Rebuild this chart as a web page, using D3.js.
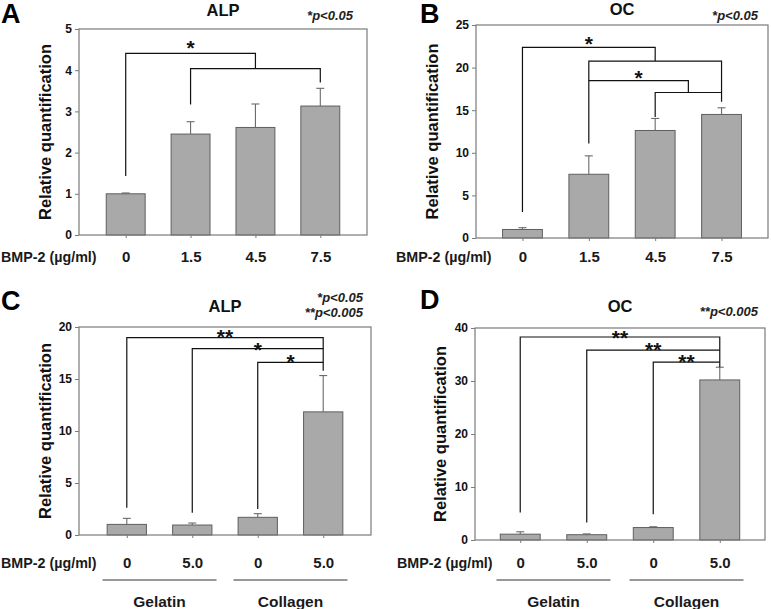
<!DOCTYPE html>
<html><head><meta charset="utf-8">
<script src="https://cdn.jsdelivr.net/npm/d3@7"></script>
<style>
html,body{margin:0;padding:0;background:#fff;}
svg{display:block;font-family:Arial,"Liberation Sans",sans-serif;}
</style></head>
<body>
<svg id="chart" width="771" height="609"></svg>
<script>
// ---------- data ----------
const catsDose = ["0", "1.5", "4.5", "7.5"];
const catsScaffold = ["0", "5.0", "0", "5.0"];
const groupLabels = ["Gelatin", "Collagen"];

const alpDoseMean = [1.0, 2.45, 2.61, 3.13];
const alpDoseErr  = [0.02, 0.30, 0.57, 0.43];
const ocDoseMean  = [1.0, 7.48, 12.62, 14.5];
const ocDoseErr   = [0.21, 2.16, 1.41, 0.78];
const alpScafMean = [1.02, 0.96, 1.70, 11.84];
const alpScafErr  = [0.58, 0.19, 0.35, 3.49];
const ocScafMean  = [1.1, 1.0, 2.35, 30.2];
const ocScafErr   = [0.45, 0.15, 0.15, 2.4];

const ticksA = [0, 1, 2, 3, 4, 5];
const ticksB = [0, 5, 10, 15, 20, 25];
const ticksC = [0, 5, 10, 15, 20];
const ticksD = [0, 10, 20, 30, 40];

// significance brackets: polylines of [category index, value]
const bracketsA = [[[0,1.43],[0,4.41],[2,4.41],[2,4.04]], [[1,3.17],[1,4.04],[3,4.04],[3,3.70]]];
const starsA = [[1, 4.66, "*"]];
const bracketsB = [[[0,3.06],[0,22.37],[2,22.37],[2,20.77]], [[1,11.09],[1,20.77],[3,20.77],[3,15.99]],
                   [[1,18.46],[2.5,18.46],[2.5,17.08]], [[2,14.2],[2,17.08],[3,17.08]]];
const starsB = [[1, 23.3, "*"], [1.75, 19.4, "*"]];
const bracketsC = [[[0,2.62],[0,18.98],[3,18.98],[3,15.8]], [[1,2.14],[1,17.92],[3,17.92]], [[2,2.5],[2,16.6],[3,16.6]]];
const starsC = [[1.5, 19.5, "**"], [2, 18.3, "*"], [2.5, 17.1, "*"]];
const bracketsD = [[[0,5.2],[0,38.3],[3,38.3],[3,32.6]], [[1,3.3],[1,35.84],[3,35.84]], [[2,4.85],[2,33.57],[3,33.57]]];
const starsD = [[1.5, 39.0, "**"], [2, 36.8, "**"], [2.5, 34.6, "**"]];

const pNotesA = ["*p<0.05"];
const pNotesB = ["*p<0.05"];
const pNotesC = ["*p<0.05", "**p<0.005"];
const pNotesD = ["**p<0.005"];

// ---------- layout ----------
const panels = [
  {letter:"A", title:"ALP", cats:catsDose, mean:alpDoseMean, err:alpDoseErr, ticks:ticksA, brackets:bracketsA, stars:starsA, notes:pNotesA,
   left:79, right:367, top:29, bottom:235, pad:0.72, ylabX:45, catPad:13, bmpX:1, letterX:1, letterY:23, titleY:16, noteX:353, noteY:[20], groups:false},
  {letter:"B", title:"OC", cats:catsDose, mean:ocDoseMean, err:ocDoseErr, ticks:ticksB, brackets:bracketsB, stars:starsB, notes:pNotesB,
   left:476, right:768, top:25, bottom:238, pad:0.70, ylabX:432, catPad:10, bmpX:396, letterX:420, letterY:23, titleY:15, noteX:758, noteY:[20], groups:false},
  {letter:"C", title:"ALP", cats:catsScaffold, mean:alpScafMean, err:alpScafErr, ticks:ticksC, brackets:bracketsC, stars:starsC, notes:pNotesC,
   left:79, right:371, top:327, bottom:535, pad:0.73, ylabX:45, catPad:19, bmpX:1, letterX:1, letterY:310, titleY:312, noteX:363, noteY:[302,317], groups:true, groupLineY:580, groupTextY:607},
  {letter:"D", title:"OC", cats:catsScaffold, mean:ocScafMean, err:ocScafErr, ticks:ticksD, brackets:bracketsD, stars:starsD, notes:pNotesD,
   left:475, right:765, top:328, bottom:540, pad:0.68, ylabX:440, catPad:14, bmpX:397, letterX:420, letterY:309, titleY:312, noteX:758, noteY:[316], groups:true, groupLineY:580, groupTextY:607}
];

const svg = d3.select("#chart");
const frameColor = "#7a7a7a";
const FONT = "Arial, 'Liberation Sans', sans-serif";

function drawPanel(p) {
  const g = svg.append("g");
  const idx = d3.range(p.cats.length);
  const x = d3.scalePoint().domain(idx).range([p.left, p.right]).padding(p.pad);
  const step = x.step();
  const xf = v => x(0) + v * step;
  const y = d3.scaleLinear().domain([0, d3.max(p.ticks)]).range([p.bottom, p.top]);
  const barW = step * 0.6;

  // bars
  g.selectAll("rect.bar").data(idx).join("rect")
    .attr("x", i => x(i) - barW / 2).attr("y", i => y(p.mean[i]))
    .attr("width", barW).attr("height", i => y(0) - y(p.mean[i]))
    .attr("fill", "#a9a9a9").attr("stroke", "#5f5f5f").attr("stroke-width", 1);

  // error bars (upper only)
  g.selectAll("line.err").data(idx).join("line")
    .attr("x1", i => x(i)).attr("x2", i => x(i))
    .attr("y1", i => y(p.mean[i])).attr("y2", i => y(p.mean[i] + p.err[i]))
    .attr("stroke", "#6a6a6a").attr("stroke-width", 1.1);
  g.selectAll("line.cap").data(idx).join("line")
    .attr("x1", i => x(i) - 4).attr("x2", i => x(i) + 4)
    .attr("y1", i => y(p.mean[i] + p.err[i])).attr("y2", i => y(p.mean[i] + p.err[i]))
    .attr("stroke", "#6a6a6a").attr("stroke-width", 1.1);

  // frame
  g.append("rect").attr("x", p.left).attr("y", p.top)
    .attr("width", p.right - p.left).attr("height", p.bottom - p.top)
    .attr("fill", "none").attr("stroke", frameColor).attr("stroke-width", 1.2);

  // y axis
  const ya = g.append("g").attr("transform", `translate(${p.left},0)`)
    .call(d3.axisLeft(y).tickValues(p.ticks).tickSize(4).tickPadding(3).tickFormat(d3.format("d")));
  ya.select(".domain").remove();
  ya.selectAll(".tick line").attr("stroke", frameColor);
  ya.selectAll(".tick text").attr("font-family", FONT)
    .attr("font-size", 12).attr("font-weight", "bold").attr("fill", "#111");

  // x axis (category labels)
  const xa = g.append("g").attr("transform", `translate(0,${p.bottom})`)
    .call(d3.axisBottom(x).tickSize(3).tickPadding(p.catPad).tickFormat(i => p.cats[i]));
  xa.select(".domain").remove();
  xa.selectAll(".tick line").attr("stroke", frameColor);
  xa.selectAll(".tick text").attr("font-family", FONT)
    .attr("font-size", 15).attr("font-weight", "bold").attr("fill", "#1a1a1a");

  // BMP-2 label
  const catBase = p.bottom + 3 + p.catPad + 0.71 * 15;
  g.append("text").attr("x", p.bmpX).attr("y", catBase).attr("text-anchor", "start")
    .attr("font-size", 14.3).attr("font-weight", "bold").attr("fill", "#1a1a1a").text("BMP-2 (µg/ml)");

  // y label
  g.append("text").attr("transform", `translate(${p.ylabX},${(p.top + p.bottom) / 2}) rotate(-90)`)
    .attr("text-anchor", "middle").attr("dominant-baseline", "central")
    .attr("font-size", 16.5).attr("font-weight", "bold").attr("fill", "#111").text("Relative quantification");

  // title, letter
  g.append("text").attr("x", (p.left + p.right) / 2).attr("y", p.titleY).attr("text-anchor", "middle")
    .attr("font-size", 16.5).attr("font-weight", "bold").attr("fill", "#111").text(p.title);
  g.append("text").attr("x", p.letterX).attr("y", p.letterY)
    .attr("font-size", 27).attr("font-weight", "bold").attr("fill", "#000").text(p.letter);

  // p-value notes
  p.notes.forEach((t, k) => {
    g.append("text").attr("x", p.noteX).attr("y", p.noteY[k]).attr("text-anchor", "end")
      .attr("font-size", 13).attr("font-weight", "bold").attr("font-style", "italic").attr("fill", "#222").text(t);
  });

  // brackets
  const line = d3.line().x(d => xf(d[0])).y(d => y(d[1]));
  g.selectAll("path.br").data(p.brackets).join("path")
    .attr("d", line).attr("fill", "none").attr("stroke", "#111").attr("stroke-width", 1.2);
  g.selectAll("text.star").data(p.stars).join("text")
    .attr("x", d => xf(d[0])).attr("y", d => y(d[1]) + 12)
    .attr("text-anchor", "middle").attr("font-size", 21).attr("font-weight", "bold").attr("fill", "#111").text(d => d[2]);

  // group lines
  if (p.groups) {
    [[0, 1], [2, 3]].forEach((pair, k) => {
      const cx = (x(pair[0]) + x(pair[1])) / 2;
      g.append("line").attr("x1", cx - 57).attr("x2", cx + 57)
        .attr("y1", p.groupLineY).attr("y2", p.groupLineY).attr("stroke", "#333").attr("stroke-width", 1.2);
      g.append("text").attr("x", cx).attr("y", p.groupTextY).attr("text-anchor", "middle")
        .attr("font-size", 15.5).attr("font-weight", "bold").attr("fill", "#1a1a1a").text(groupLabels[k]);
    });
  }
}

panels.forEach(drawPanel);
</script>
</body></html>
